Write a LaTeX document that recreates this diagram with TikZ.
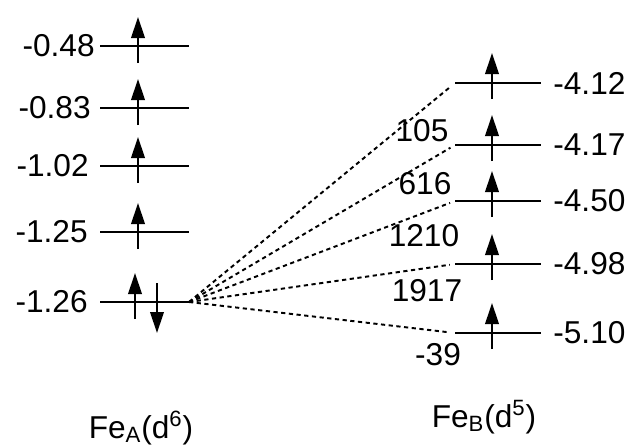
\documentclass[tikz,border=0pt]{standalone}
\usepackage{fontspec}
\setmainfont{Liberation Sans}
\usetikzlibrary{arrows.meta}
\begin{document}
\begin{tikzpicture}[x=0.02cm, y=-0.02cm, inner sep=0pt,
    font=\fontsize{18}{21}\selectfont,
    orb/.style={line width=1.5pt},
    spin/.style={line width=1.2pt, -{Triangle[length=0.42cm, width=0.27cm]}},
    coupling/.style={line width=1.1pt, dash pattern=on 2.4pt off 2pt, shorten >=3pt}]
  \useasboundingbox (0,0) rectangle (631,447);
  % Fe_A levels
  \foreach \i/\y/\xl/\e in {1/46/95/-0.48, 2/108/91/-0.83, 3/166/89/-1.02, 4/232/88/-1.25, 5/302/88/-1.26} {
    \coordinate (a\i-w) at (100,\y);
    \coordinate (a\i-e) at (189,\y);
    \draw[orb] (a\i-w) -- (a\i-e);
    \node[anchor=east] (la\i) at (\xl,\y) {\e};
  }
  \foreach \y in {46,108,166,232} \draw[spin] (138,\y+17) -- (138,\y-29);
  \draw[spin] (135,319) -- (135,273);
  \draw[spin] (157,283) -- (157,333);
  % Fe_B levels
  \foreach \i/\y/\e in {1/83/-4.12, 2/145/-4.17, 3/201/-4.50, 4/264/-4.98, 5/333/-5.10} {
    \coordinate (b\i-w) at (455,\y);
    \coordinate (b\i-e) at (541,\y);
    \draw[orb] (b\i-w) -- (b\i-e);
    \draw[spin] (492,\y+16) -- (492,\y-30);
    \node[anchor=west] (lb\i) at (553,\y) {\e};
  }
  \foreach \i in {1,...,5} \draw[coupling] (a5-e) -- (b\i-w);
  \foreach \n/\x/\y/\t in {j1/422/131/105, j2/425/184/616, j3/424/236/1210, j4/427/291/1917, j5/438/355/-39}
    \node (\n) at (\x,\y) {\t};
  \node[anchor=base] (feA) at (141,438) {Fe\textsubscript{A}(d\textsuperscript{6})};
  \node[anchor=base] (feB) at (484,427) {Fe\textsubscript{B}(d\textsuperscript{5})};
\end{tikzpicture}
\end{document}
